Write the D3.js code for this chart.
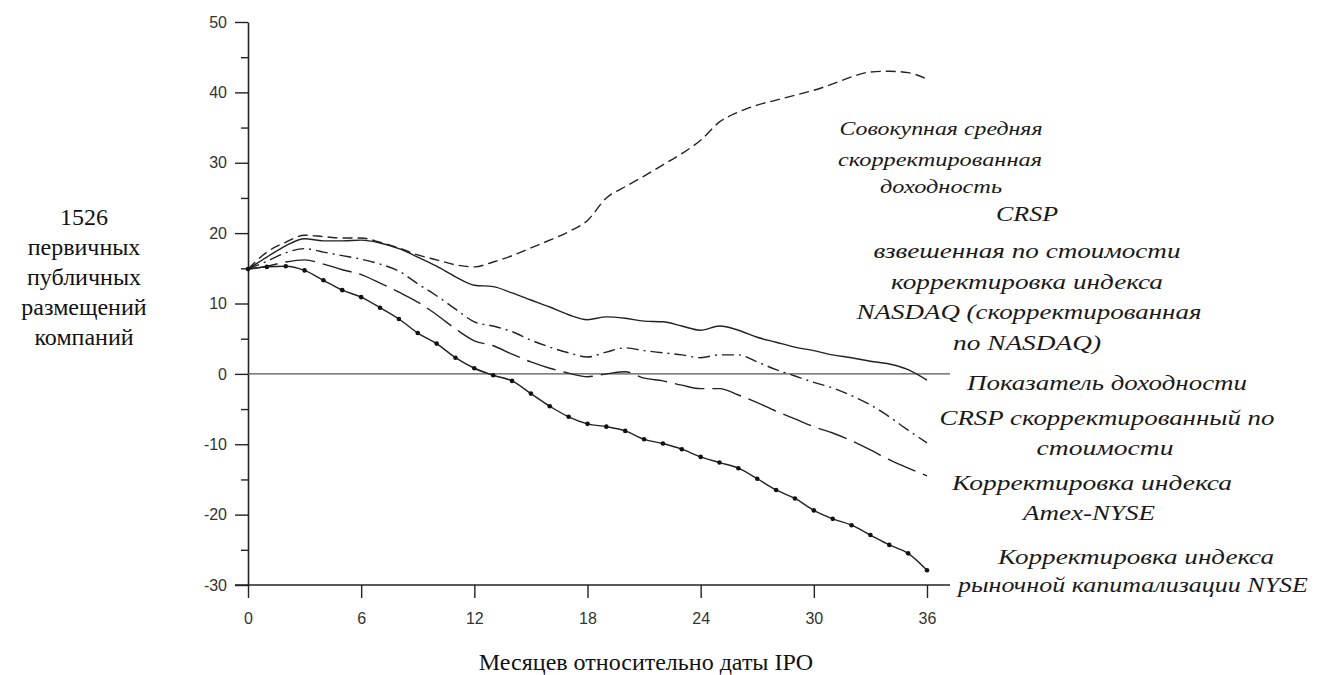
<!DOCTYPE html>
<html>
<head>
<meta charset="utf-8">
<script src="https://cdn.jsdelivr.net/npm/d3@7"></script>
<style>
  body { margin: 0; background: #fff; }
  svg { display: block; }
</style>
</head>
<body>
<svg id="chart" width="1320" height="675"></svg>
<script>
// months relative to the IPO date
const months = [0, 1, 2, 3, 4, 5, 6, 7, 8, 9, 10, 11, 12, 13, 14, 15, 16, 17, 18,
  19, 20, 21, 22, 23, 24, 25, 26, 27, 28, 29, 30, 31, 32, 33, 34, 35, 36];

const xTicks = [0, 6, 12, 18, 24, 30, 36],
  yTicks = [-30, -20, -10, 0, 10, 20, 30, 40, 50],
  yMinorTicks = [-25, -15, -5, 5, 15, 25, 35, 45];

// cumulative average adjusted returns, %
const cumulativeAverage = [14.9, 17.3, 18.7, 19.7, 19.5, 19.3, 19.3, 18.7, 17.9, 16.9, 16.2, 15.5,
  15.2, 15.9, 16.8, 17.9, 19.0, 20.2, 21.8, 25.0, 26.6, 28.1, 29.7, 31.3, 33.2, 35.8, 37.2,
  38.2, 38.9, 39.6, 40.3, 41.2, 42.2, 42.9, 43.0, 42.8, 41.9];

const nasdaqAdjusted = [14.9, 16.6, 18.2, 19.2, 18.9, 18.9, 19.0, 18.6, 17.8, 16.6, 15.3, 13.8,
  12.6, 12.4, 11.5, 10.5, 9.5, 8.4, 7.7, 8.1, 7.9, 7.5, 7.4, 6.8, 6.2, 6.8, 6.2,
  5.2, 4.5, 3.8, 3.3, 2.7, 2.3, 1.8, 1.4, 0.6, -0.9];

const crspValueWeighted = [14.9, 16.0, 17.2, 17.8, 17.3, 16.8, 16.3, 15.6, 14.6, 12.8, 11.1, 9.2,
  7.4, 6.8, 6.0, 4.8, 3.8, 3.0, 2.4, 3.1, 3.7, 3.3, 3.0, 2.7, 2.3, 2.7, 2.7,
  1.7, 0.6, -0.3, -1.2, -2.0, -3.1, -4.4, -6.1, -8.0, -9.8];

const amexNyseAdjusted = [14.9, 15.3, 15.9, 16.2, 15.6, 14.8, 14.1, 12.9, 11.6, 10.2, 8.4, 6.4,
  4.7, 4.0, 2.8, 1.7, 0.8, 0.1, -0.4, 0.0, 0.3, -0.6, -1.0, -1.6, -2.1, -2.1, -3.0,
  -4.1, -5.3, -6.4, -7.5, -8.4, -9.5, -10.8, -12.2, -13.4, -14.5];

const nyseMarketCap = [14.9, 15.2, 15.3, 14.7, 13.3, 11.9, 10.9, 9.4, 7.8, 5.8, 4.3, 2.3,
  0.8, -0.2, -1.0, -2.8, -4.6, -6.1, -7.1, -7.5, -8.1, -9.3, -9.9, -10.7, -11.8, -12.6, -13.4,
  -14.9, -16.5, -17.7, -19.4, -20.6, -21.5, -22.9, -24.3, -25.5, -27.9];

// texts
const sideTitle = ['1526', 'первичных', 'публичных', 'размещений', 'компаний'],
  xTitle = 'Месяцев относительно даты IPO',
  seriesLabels = [
    'Совокупная средняя', 'скорректированная', 'доходность',
    'CRSP', 'взвешенная по стоимости', 'корректировка индекса',
    'NASDAQ (скорректированная', 'по NASDAQ)',
    'Показатель доходности', 'CRSP скорректированный по', 'стоимости',
    'Корректировка индекса', 'Amex-NYSE',
    'Корректировка индекса', 'рыночной капитализации NYSE'
  ];

// where each label line sits: centre x, centre y, fitted width, font size
const labelLayout = [
  [941, 129, 203, 19], [940, 160, 204, 19], [941, 187, 122, 19],
  [1027, 215, 62, 21], [1027, 252, 307, 21], [1027, 283, 272, 21],
  [1029, 313, 345, 21], [1027, 344, 148, 21],
  [1107, 383, 280, 22], [1107, 418, 335, 22], [1105, 448, 137, 22],
  [1092, 483, 280, 22], [1089, 513, 132, 22],
  [1136, 557, 276, 22], [1133, 585, 350, 22]
];

const series = [
  { values: cumulativeAverage, dash: '10,5' },
  { values: nasdaqAdjusted, dash: null },
  { values: crspValueWeighted, dash: '12,5,2,5' },
  { values: amexNyseAdjusted, dash: '30,8' },
  { values: nyseMarketCap, dash: null, dots: true }
];

const ink = '#222',
  serifFont = '"Liberation Serif", "DejaVu Serif", "Times New Roman", serif';

const svg = d3.select('#chart');
svg.append('rect').attr('width', 1320).attr('height', 675).attr('fill', '#fff');

const x = d3.scaleLinear().domain([0, 36]).range([248, 927]),
  y = d3.scaleLinear().domain([-30, 50]).range([585, 22]);

// y axis, major and minor ticks (plain hyphen for negatives, as in the scan)
const yAxis = svg.append('g')
  .attr('transform', `translate(${x(0)},0)`)
  .call(d3.axisLeft(y).tickValues(yTicks).tickFormat(d => String(d))
    .tickSize(13).tickSizeOuter(0).tickPadding(8));

svg.append('g')
  .attr('transform', `translate(${x(0)},0)`)
  .call(d3.axisLeft(y).tickValues(yMinorTicks).tickSize(7).tickFormat(''))
  .call(g => g.select('.domain').remove());

// x axis
const xAxis = svg.append('g')
  .attr('transform', `translate(0,${y(-30)})`)
  .call(d3.axisBottom(x).tickValues(xTicks).tickFormat(d => String(d))
    .tickSize(13).tickSizeOuter(0).tickPadding(15));
xAxis.select('.domain').remove();

svg.append('line')
  .attr('x1', x(0) - 13).attr('x2', x(36) + 23)
  .attr('y1', y(-30)).attr('y2', y(-30))
  .attr('stroke', ink).attr('stroke-width', 1.6);

// zero line
svg.append('line')
  .attr('x1', x(0)).attr('x2', x(36) + 23)
  .attr('y1', y(0)).attr('y2', y(0))
  .attr('stroke', '#555').attr('stroke-width', 1.2);

svg.selectAll('.tick line').attr('stroke', ink).attr('stroke-width', 1.4);
yAxis.select('.domain').attr('stroke', ink).attr('stroke-width', 1.6);
svg.selectAll('.tick text')
  .attr('fill', '#333')
  .style('font-family', '"Liberation Sans", Arial, sans-serif')
  .style('font-size', '16px');

// the five return curves
const line = d3.line()
  .x((d, i) => x(months[i]))
  .y(d => y(d))
  .curve(d3.curveMonotoneX);

series.forEach(s => {
  svg.append('path')
    .datum(s.values)
    .attr('d', line)
    .attr('fill', 'none')
    .attr('stroke', ink)
    .attr('stroke-width', 1.4)
    .attr('stroke-dasharray', s.dash);

  if (s.dots) {
    svg.append('g')
      .selectAll('circle')
      .data(s.values)
      .join('circle')
      .attr('cx', (d, i) => x(months[i]))
      .attr('cy', d => y(d))
      .attr('r', 2.3)
      .attr('fill', '#111');
  }
});

// left title
svg.append('g')
  .selectAll('text')
  .data(sideTitle)
  .join('text')
  .attr('x', 84)
  .attr('y', (d, i) => i === 0 ? 225 : 255 + (i - 1) * 30)
  .attr('text-anchor', 'middle')
  .style('font-family', serifFont)
  .style('font-size', '24px')
  .attr('fill', '#111')
  .text(d => d);

// x title
svg.append('text')
  .attr('x', 646)
  .attr('y', 670)
  .attr('text-anchor', 'middle')
  .style('font-family', serifFont)
  .style('font-size', '24px')
  .attr('fill', '#111')
  .text(xTitle);

// series labels on the right
svg.append('g')
  .selectAll('text')
  .data(seriesLabels)
  .join('text')
  .attr('x', (d, i) => labelLayout[i][0])
  .attr('y', (d, i) => labelLayout[i][1] + labelLayout[i][3] * 0.3)
  .attr('text-anchor', 'middle')
  .attr('textLength', (d, i) => labelLayout[i][2])
  .attr('lengthAdjust', 'spacingAndGlyphs')
  .style('font-family', serifFont)
  .style('font-style', 'italic')
  .style('font-size', (d, i) => labelLayout[i][3] + 'px')
  .attr('fill', '#1a1a1a')
  .text(d => d);
</script>
</body>
</html>
